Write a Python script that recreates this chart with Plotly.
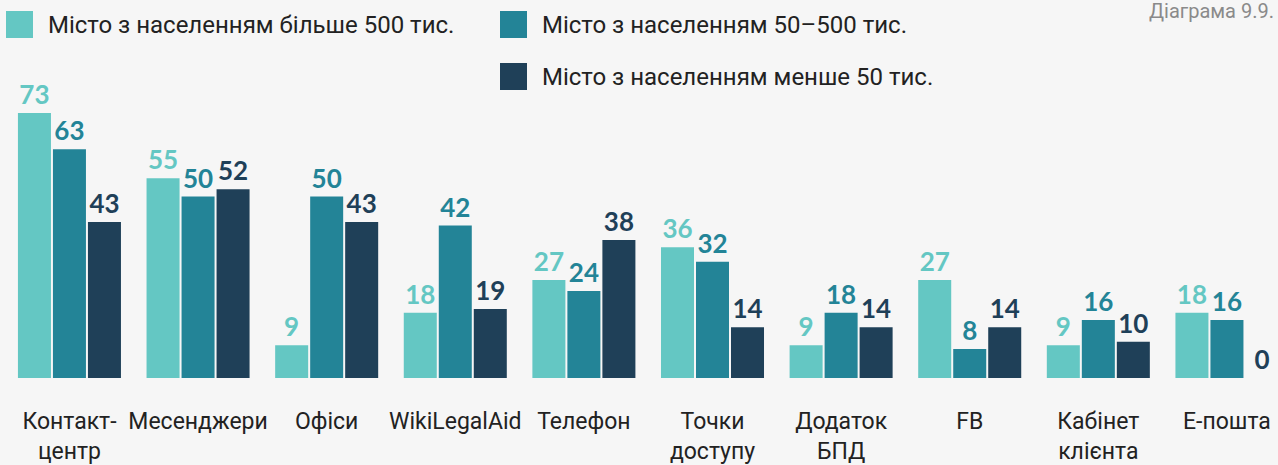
import plotly.graph_objects as go

# Survey channels and shares (%) by settlement size
categories = [
    "Контакт-<br>центр", "Месенджери", "Офіси", "WikiLegalAid", "Телефон",
    "Точки<br>доступу", "Додаток<br>БПД", "FB", "Кабінет<br>клієнта", "Е-пошта",
]
series_names = [
    "Місто з населенням більше 500 тис.",
    "Місто з населенням 50–500 тис.",
    "Місто з населенням менше 50 тис.",
]
big_city = [73, 55, 9, 18, 27, 36, 9, 27, 9, 18]
mid_city = [63, 50, 50, 42, 24, 32, 18, 8, 16, 16]
small_city = [43, 52, 43, 19, 38, 14, 14, 14, 10, 0]

colors = ["#64c7c3", "#238497", "#1f4058"]
values = [big_city, mid_city, small_city]

W, H = 1278, 465
ML, MR, MT, MB = 0, 0, 100, 87
PLOT_H = H - MT - MB

label_font = "Roboto, sans-serif"
num_font = "Lato, Roboto, sans-serif"

fig = go.Figure()
for name, vals, col in zip(series_names, values, colors):
    fig.add_trace(go.Bar(
        x=categories, y=vals, name=name,
        marker=dict(color=col, line=dict(width=0)),
        text=vals, texttemplate="<b>%{text}</b>",
        textposition="outside", constraintext="none", cliponaxis=False,
        textfont=dict(family=num_font, size=26, color=col),
        showlegend=False,
    ))


def px_x(px):
    return (px - ML) / (W - ML - MR)


def px_y(py):
    return (H - MB - py) / PLOT_H


# Legend: coloured squares with captions
legend_items = [
    (6, 11, 33, 38, 46, 25),
    (500, 11, 527, 38, 540, 25),
    (500, 63, 527, 90, 540, 77),
]
for (x0, y0, x1, y1, tx, ty), name, col in zip(legend_items, series_names, colors):
    fig.add_shape(type="rect", xref="paper", yref="paper",
                  x0=px_x(x0), x1=px_x(x1), y0=px_y(y1), y1=px_y(y0),
                  fillcolor=col, line=dict(width=0))
    fig.add_annotation(xref="paper", yref="paper", x=px_x(tx), y=px_y(ty),
                       xanchor="left", yanchor="middle", showarrow=False,
                       text=name, font=dict(family=label_font, size=24, color="#222222"))

fig.add_annotation(xref="paper", yref="paper", x=px_x(1276), y=px_y(11),
                   xanchor="right", yanchor="middle", showarrow=False,
                   text="Діаграма 9.9.", font=dict(family=label_font, size=20, color="#8a8a8a"))

fig.update_layout(
    width=W, height=H,
    margin=dict(l=ML, r=MR, t=MT, b=MB, autoexpand=False),
    paper_bgcolor="#f6f6f6", plot_bgcolor="#f6f6f6",
    barmode="group", bargap=0.1835, bargroupgap=0.057,
    xaxis=dict(type="category", range=[-0.540, 9.397], showgrid=False, zeroline=False,
               showline=False, ticks="outside", ticklen=22, tickcolor="rgba(0,0,0,0)",
               tickangle=0, automargin=False,
               tickfont=dict(family=label_font, size=23, color="#222222")),
    yaxis=dict(range=[0, PLOT_H / 3.63], visible=False, automargin=False),
)

fig.write_html("out.html")
